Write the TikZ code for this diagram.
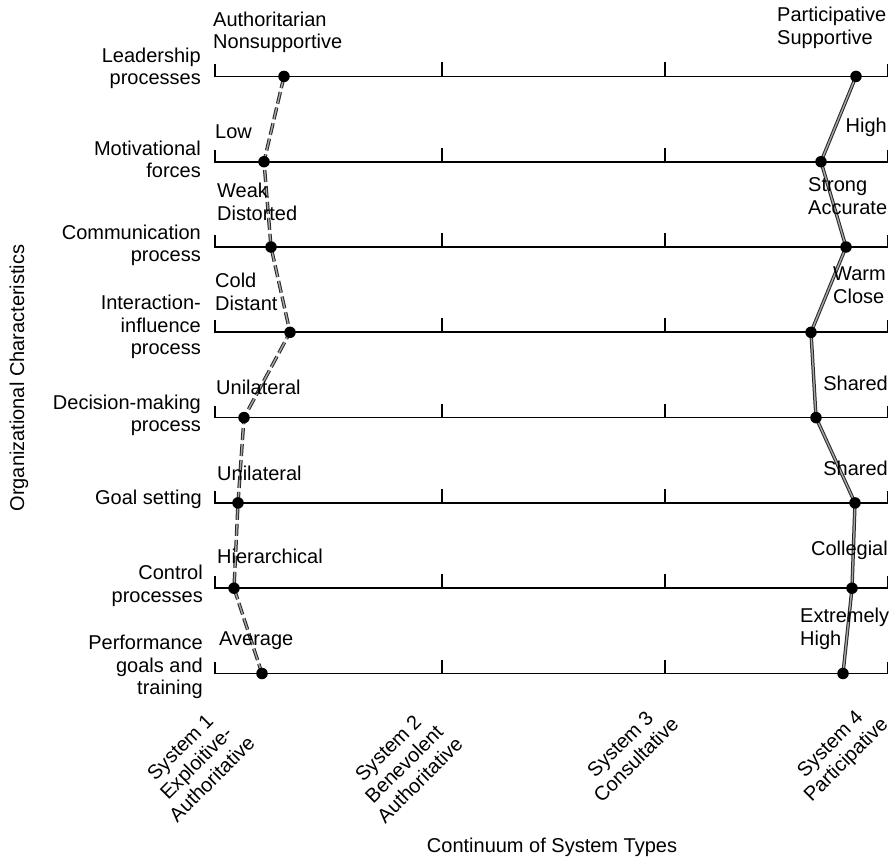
\documentclass[tikz,border=0pt]{standalone}
\usepackage{fontspec}
\setmainfont{Liberation Sans}
\usetikzlibrary{calc}
\begin{document}
\begin{tikzpicture}[x=1pt,y=-1pt,
  txt/.style={inner sep=0pt, font=\fontsize{20}{22.5}\selectfont},
  rowlabel/.style={txt, anchor=east, align=right},
  leftend/.style={txt, anchor=west, align=left},
  rightend/.style={txt, anchor=east, align=right},
  syslabel/.style={txt, rotate=45, align=center},
  scaleline/.style={line width=1.7pt, black},
  dot/.style={circle, fill=black, inner sep=0pt, minimum size=11.5pt},
  linkouter/.style={line width=3.4pt, black!85, line join=round},
  linkinner/.style={line width=1.4pt, black!35, line join=round},
  dashpat/.style={dash pattern=on 12pt off 4pt}]

\useasboundingbox[fill=white] (0,0) rectangle (891,863);

% ---------------- rating scales and profile points ----------------
\foreach \i/\y/\xl/\xr in {1/76.4/284/856, 2/161.7/264/821, 3/247/271/846,
                           4/332.3/290/811, 5/417.6/244/816, 6/502.9/238/855,
                           7/588.2/234/852, 8/673.5/262/843}{
  \coordinate (s\i a) at (215,\y);
  \coordinate (s\i b) at (887.5,\y);
  \draw[scaleline] ($(s\i a)+(0,-12)$) -- (s\i a) -- (s\i b) -- ++(0,-12);
  \draw[scaleline] (442,\y) -- ++(0,-14);
  \draw[scaleline] (665,\y) -- ++(0,-14);
  \coordinate (p\i) at (\xl,\y);
  \coordinate (q\i) at (\xr,\y);
}

% System 1 profile (dashed) and System 4 profile (solid)
\draw[linkouter, dashpat] (p1)--(p2)--(p3)--(p4)--(p5)--(p6)--(p7)--(p8);
\draw[linkinner, dashpat] (p1)--(p2)--(p3)--(p4)--(p5)--(p6)--(p7)--(p8);
\draw[linkouter] (q1)--(q2)--(q3)--(q4)--(q5)--(q6)--(q7)--(q8);
\draw[linkinner] (q1)--(q2)--(q3)--(q4)--(q5)--(q6)--(q7)--(q8);

\foreach \i in {1,...,8}{
  \node[dot] (dp\i) at (p\i) {};
  \node[dot] (dq\i) at (q\i) {};
}

% ---------------- characteristic names ----------------
\node[rowlabel] (c1) at (201,68.5) {Leadership\\processes};
\node[rowlabel] (c2) at (201,159.5) {Motivational\\forces};
\node[rowlabel] (c3) at (201,245.5) {Communication\\process};
\node[rowlabel] (c4) at (201,327) {Interaction-\\influence\\process};
\node[rowlabel] (c5) at (201,415.5) {Decision-making\\process};
\node[rowlabel] (c6) at (202,499) {Goal setting};
\node[rowlabel] (c7) at (203,586) {Control\\processes};
\node[rowlabel] (c8) at (203,667) {Performance\\goals and\\training};

% ---------------- scale end descriptions ----------------
\node[leftend] (e1) at (213,32.5) {Authoritarian\\Nonsupportive};
\node[leftend] (e2) at (215,132) {Low};
\node[leftend] (e3) at (217,202) {Weak\\Distorted};
\node[leftend] (e4) at (215,292) {Cold\\Distant};
\node[leftend] (e5) at (216,387) {Unilateral};
\node[leftend] (e6) at (217,473) {Unilateral};
\node[leftend] (e7) at (217,556) {Hierarchical};
\node[leftend] (e8) at (219,641) {Average};

\node[leftend]  (f1) at (777,28) {Participative\\Supportive};
\node[rightend] (f2) at (887,127) {High};
\node[leftend]  (f3) at (808,196) {Strong\\Accurate};
\node[leftend]  (f4) at (833,285) {Warm\\Close};
\node[rightend] (f5) at (888,383) {Shared};
\node[rightend] (f6) at (888,468) {Shared};
\node[rightend] (f7) at (888,550) {Collegial};
\node[leftend]  (f8) at (800,629) {Extremely\\High};

% ---------------- system types ----------------
\node[syslabel] (t1) at (196,763) {System 1\\Exploitive-\\Authoritative};
\node[syslabel] (t2) at (404,764) {System 2\\Benevolent\\Authoritative};
\node[syslabel] (t3) at (628,752) {System 3\\Consultative};
\node[syslabel] (t4) at (839,753) {System 4\\Participative};

% ---------------- axis titles ----------------
\node[txt] (xaxis) at (552,847) {Continuum of System Types};
\node[txt, rotate=90] (yaxis) at (19,378) {Organizational Characteristics};

\end{tikzpicture}
\end{document}
